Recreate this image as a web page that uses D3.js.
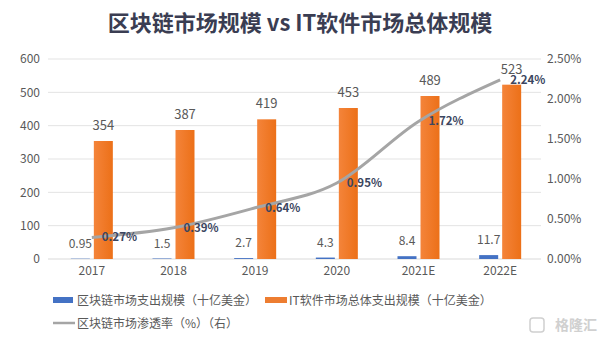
<!DOCTYPE html>
<html><head><meta charset="utf-8">
<script src="https://cdn.jsdelivr.net/npm/d3@7/dist/d3.min.js"></script>
<style>body{margin:0;background:#fff}svg{display:block}text{font-family:"Noto Sans CJK SC","Noto Sans",sans-serif}</style>
</head><body><svg id="c" width="600" height="341"></svg>
<script>
const categories = ["2017","2018","2019","2020","2021E","2022E"];
const blockchainSpend = [0.95,1.5,2.7,4.3,8.4,11.7];
const itSpend = [354,387,419,453,489,523];
const penetration = [0.27,0.39,0.64,0.95,1.72,2.24];
const leftTicks = [0,100,200,300,400,500,600];
const rightTicks = [0,0.5,1,1.5,2,2.5];

const svg = d3.select("#c");
const x = d3.scaleBand().domain(categories).range([51,541]);
const y = d3.scaleLinear().domain([0,600]).range([259,59]);
const y2 = d3.scaleLinear().domain([0,2.5]).range([259,59]);
const grey = "#595959";

svg.append("text").attr("x",300).attr("y",31).attr("text-anchor","middle")
  .attr("font-size",22).attr("font-weight","bold").attr("fill","#3a3d52")
  .text("区块链市场规模 vs IT软件市场总体规模");

// gridlines
svg.append("g").selectAll("line").data(leftTicks.slice(1)).join("line")
  .attr("x1",48).attr("x2",541).attr("y1",d=>y(d)).attr("y2",d=>y(d))
  .attr("stroke","#e3e3e3").attr("stroke-width",1);
svg.append("line").attr("x1",48).attr("x2",541).attr("y1",y(0)).attr("y2",y(0)).attr("stroke","#d9d9d9");

// left axis
const la = svg.append("g").attr("transform","translate(45,0)")
  .call(d3.axisLeft(y).tickValues(leftTicks).tickSize(0).tickPadding(5));
la.select(".domain").remove();
la.selectAll("text").attr("font-size",12).attr("fill",grey).attr("font-family","Liberation Sans, Arial, sans-serif");
// right axis
const ra = svg.append("g").attr("transform","translate(543,0)")
  .call(d3.axisRight(y2).tickValues(rightTicks).tickSize(0).tickPadding(4).tickFormat(d=>d.toFixed(2)+"%"));
ra.select(".domain").remove();
ra.selectAll("text").attr("font-size",12).attr("fill",grey).attr("font-family","Liberation Sans, Arial, sans-serif");
// x axis
const xa = svg.append("g").attr("transform","translate(0,263)")
  .call(d3.axisBottom(x).tickSize(0).tickPadding(3));
xa.select(".domain").remove();
xa.selectAll("text").attr("font-size",12).attr("fill",grey).attr("font-family","Liberation Sans, Arial, sans-serif");

const bw = 19;
const defs = svg.append("defs");
const g = defs.append("linearGradient").attr("id","og").attr("x1","0").attr("x2","1").attr("y1","0").attr("y2","0");
g.append("stop").attr("offset","0").attr("stop-color","#F4843A");
g.append("stop").attr("offset","1").attr("stop-color","#EC7018");

const cx = d => x(d) + x.bandwidth()/2;
svg.append("g").selectAll("rect").data(categories).join("rect")
  .attr("x",(d)=>cx(d)-bw-2).attr("width",bw)
  .attr("y",(d,i)=>y(blockchainSpend[i])).attr("height",(d,i)=>y(0)-y(blockchainSpend[i]))
  .attr("fill","#4472C4");
svg.append("g").selectAll("rect").data(categories).join("rect")
  .attr("x",(d)=>cx(d)+2).attr("width",bw)
  .attr("y",(d,i)=>y(itSpend[i])).attr("height",(d,i)=>y(0)-y(itSpend[i]))
  .attr("fill","url(#og)");

// bar labels
svg.append("g").selectAll("text").data(categories).join("text")
  .attr("x",d=>cx(d)-bw/2-2).attr("y",(d,i)=>y(blockchainSpend[i])-11)
  .attr("text-anchor","middle").attr("font-size",12).attr("fill",grey)
  .attr("font-family","Liberation Sans, Arial, sans-serif")
  .text((d,i)=>blockchainSpend[i]);
svg.append("g").selectAll("text").data(categories).join("text")
  .attr("x",d=>cx(d)+2+bw/2).attr("y",(d,i)=>y(itSpend[i])-11)
  .attr("text-anchor","middle").attr("font-size",13).attr("fill",grey)
  .attr("font-family","Liberation Sans, Arial, sans-serif")
  .text((d,i)=>itSpend[i]);

// line
const line = d3.line().x(d=>cx(d[0])).y(d=>y2(d[1])).curve(d3.curveMonotoneX);
svg.append("path").datum(categories.map((c,i)=>[c,penetration[i]]))
  .attr("d",line).attr("fill","none").attr("stroke","#A5A5A5").attr("stroke-width",3);
svg.append("g").selectAll("text").data(categories).join("text")
  .attr("x",d=>cx(d)+10).attr("y",(d,i)=>y2(penetration[i])+4)
  .attr("font-size",11.5).attr("font-weight","bold").attr("fill","#3b4660")
  .attr("font-family","Liberation Sans, Arial, sans-serif")
  .text((d,i)=>penetration[i].toFixed(2)+"%");

// legend
const lg = svg.append("g").attr("font-size",12).attr("fill",grey);
lg.append("rect").attr("x",53).attr("y",297).attr("width",20).attr("height",6).attr("fill","#4472C4");
lg.append("text").attr("x",77).attr("y",304.5).attr("fill",grey).text("区块链市场支出规模（十亿美金）");
lg.append("rect").attr("x",265).attr("y",297).attr("width",22).attr("height",6).attr("fill","#ED7D31");
lg.append("text").attr("x",289).attr("y",304.5).attr("fill",grey).text("IT软件市场总体支出规模（十亿美金）");
lg.append("line").attr("x1",53).attr("x2",75).attr("y1",323).attr("y2",323).attr("stroke","#A5A5A5").attr("stroke-width",2.5);
lg.append("text").attr("x",77).attr("y",327.5).attr("fill",grey).text("区块链市场渗透率（%）（右）");

// watermark
svg.append("text").attr("x",597).attr("y",330).attr("text-anchor","end")
  .attr("font-size",14).attr("font-weight","bold").attr("fill","#d0d0d0").text("格隆汇");
svg.append("rect").attr("x",530).attr("y",318).attr("width",14).attr("height",14).attr("rx",3)
  .attr("fill","none").attr("stroke","#d0d0d0").attr("stroke-width",1.5);
</script></body></html>
